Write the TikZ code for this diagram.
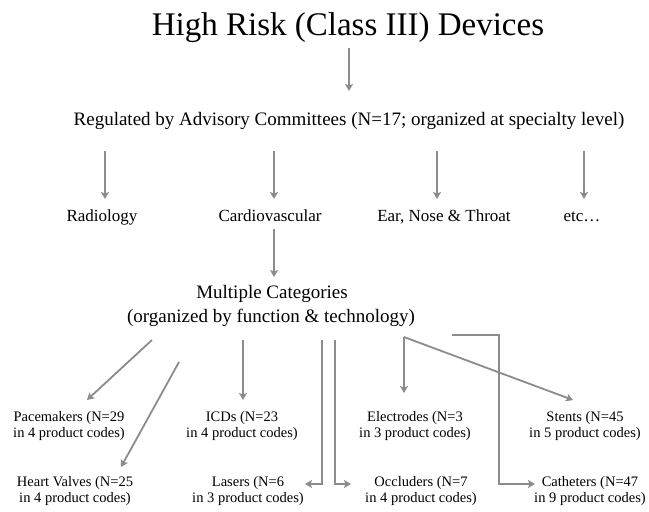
\documentclass[tikz,border=0pt]{standalone}
\usepackage{fontspec}
\setmainfont{Liberation Serif}
\usetikzlibrary{arrows.meta}
\definecolor{arrgray}{RGB}{140,140,140}
\tikzset{
  arr/.style={draw=arrgray, line width=1.8pt, -{Stealth[length=7pt,width=8pt,inset=1.5pt]}},
  ttl/.style={inner sep=0pt, anchor=base, font=\fontsize{33}{38}\selectfont},
  big/.style={inner sep=0pt, anchor=base, font=\fontsize{19}{24}\selectfont, align=center},
  row/.style={inner sep=0pt, anchor=base, font=\fontsize{17}{21}\selectfont},
  lab/.style={inner sep=0pt, font=\fontsize{14.5}{16.8}\selectfont, align=center}
}
\begin{document}
\begin{tikzpicture}[x=1pt,y=-1pt]
\useasboundingbox (0,0) rectangle (649,512);
% nodes
\node[ttl] (title) at (348,35) {High Risk (Class III) Devices};
\node[big] (reg) at (349,125) {Regulated by Advisory Committees (N=17; organized at specialty level)};
\node[row] (rad) at (102,221) {Radiology};
\node[row] (card) at (270,221) {Cardiovascular};
\node[row] (ent) at (444,221) {Ear, Nose \& Throat};
\node[row] (etc) at (582,221) {etc\ldots};
\node[big] (multi) at (272,298) {Multiple Categories};
\node[big] (multi2) at (271,322) {(organized by function \& technology)};
\node[lab] (pace) at (69,426) {Pacemakers (N=29\\in 4 product codes)};
\node[lab] (icd) at (242,426) {ICDs (N=23\\in 4 product codes)};
\node[lab] (elec) at (415,426) {Electrodes (N=3\\in 3 product codes)};
\node[lab] (stent) at (585,426) {Stents (N=45\\in 5 product codes)};
\node[lab] (hv) at (75,491) {Heart Valves (N=25\\in 4 product codes)};
\node[lab] (las) at (248,491) {Lasers (N=6\\in 3 product codes)};
\node[lab] (occ) at (421,491) {Occluders (N=7\\in 4 product codes)};
\node[lab] (cath) at (590,491) {Catheters (N=47\\in 9 product codes)};
% coordinates
\coordinate (t1) at (349,48); \coordinate (t2) at (349,91);
\coordinate (s1) at (105,151); \coordinate (e1) at (105,199);
\coordinate (s2) at (274,151); \coordinate (e2) at (274,199);
\coordinate (s3) at (437,151); \coordinate (e3) at (437,199);
\coordinate (s4) at (584,151); \coordinate (e4) at (584,199);
\coordinate (c1) at (274,229); \coordinate (c2) at (274,277);
\coordinate (pS) at (152,340); \coordinate (pE) at (87,400);
\coordinate (hS) at (179,362); \coordinate (hE) at (121,467);
\coordinate (iS) at (243,340); \coordinate (iE) at (243,400);
\coordinate (lS) at (322,340); \coordinate (lB) at (322,484); \coordinate (lE) at (305,484);
\coordinate (oS) at (335,340); \coordinate (oB) at (335,484); \coordinate (oE) at (351,484);
\coordinate (eS) at (404,337); \coordinate (eE) at (404,393);
\coordinate (sE) at (573,400);
\coordinate (kS) at (452,335); \coordinate (kA) at (499,335); \coordinate (kB) at (499,484); \coordinate (kE) at (535,484);
% connectors
\draw[arr] (t1) -- (t2);
\draw[arr] (s1) -- (e1);
\draw[arr] (s2) -- (e2);
\draw[arr] (s3) -- (e3);
\draw[arr] (s4) -- (e4);
\draw[arr] (c1) -- (c2);
\draw[arr] (pS) -- (pE);
\draw[arr] (hS) -- (hE);
\draw[arr] (iS) -- (iE);
\draw[arr] (lS) -- (lB) -- (lE);
\draw[arr] (oS) -- (oB) -- (oE);
\draw[arr] (eS) -- (eE);
\draw[arr] (eS) -- (sE);
\draw[arr] (kS) -- (kA) -- (kB) -- (kE);
\end{tikzpicture}
\end{document}
